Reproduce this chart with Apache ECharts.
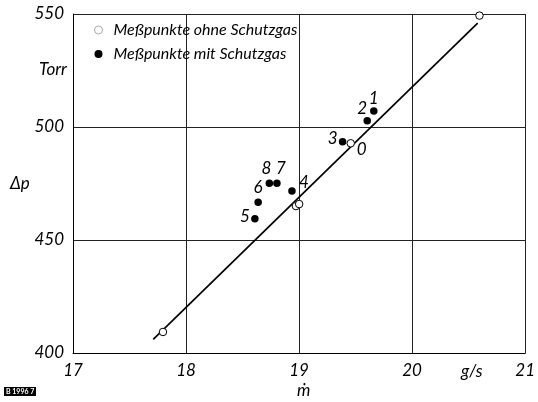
<!DOCTYPE html>
<html><head><meta charset="utf-8">
<script src="https://cdn.jsdelivr.net/npm/echarts@6/dist/echarts.min.js"></script>
<style>html,body{margin:0;padding:0;background:#fff;overflow:hidden}#c{width:538px;height:402px}</style>
</head><body><div id="c"></div>
<script>
// ---- data ----
const xTicks = [17, 18, 19, 20, 21];
const yTicks = [400, 450, 500, 550];
const openX = [17.796, 18.972, 19.001, 19.457, 20.596];
const openY = [409.3, 465.0, 465.9, 492.8, 549.3];
const openLabels = ['', '', '', '0', ''];
const filledX = [19.661, 19.603, 19.385, 18.937, 18.609, 18.638, 18.804, 18.737];
const filledY = [507.1, 502.8, 493.5, 471.7, 459.4, 466.7, 475.1, 475.1];
const filledLabels = ['1', '2', '3', '4', '5', '6', '7', '8'];
const fitX = [17.71, 20.58];
const fitY = [406, 546];
const seriesNames = ['Meßpunkte ohne Schutzgas', 'Meßpunkte mit Schutzgas'];

// ---- layout / style ----
const FONT = "Lato, 'Liberation Sans', sans-serif";
const FS = 17;
const labelOffsets = {
  '0': [11, 6], '1': [0, -12], '2': [-5, -12], '3': [-10, -3], '4': [12, -8],
  '5': [-10, -2], '6': [0, -15], '7': [4, -15], '8': [-3, -15]
};
function pts(xs, ys, labels) {
  return xs.map((x, i) => {
    const lab = labels[i];
    const o = { value: [x, ys[i]] };
    if (lab) {
      o.label = { show: true, formatter: lab, position: 'inside', offset: labelOffsets[lab] || [0, 0] };
    }
    return o;
  });
}
const txt = { fontFamily: FONT, fontStyle: 'italic', fontSize: FS, color: '#000' };
const gfont = "italic " + FS + "px " + FONT;

const chart = echarts.init(document.getElementById('c'), null, { renderer: 'canvas' });
chart.setOption({
  animation: false,
  backgroundColor: '#fff',
  grid: { left: 73, right: 6, top: 14, bottom: 49, containLabel: false },
  legend: {
    orient: 'vertical', left: 89, top: 17,
    itemWidth: 8, itemHeight: 8, itemGap: 8,
    textStyle: Object.assign({}, txt, { fontSize: 16, lineHeight: 16, padding: [0, 0, 0, 6] }),
    data: [
      { name: seriesNames[0], icon: 'circle', itemStyle: { color: '#fff', borderColor: '#aaa', borderWidth: 1 } },
      { name: seriesNames[1], icon: 'circle', itemStyle: { color: '#000' } }
    ]
  },
  xAxis: {
    type: 'value', min: xTicks[0], max: xTicks[xTicks.length - 1], interval: 1,
    axisLine: { show: true, lineStyle: { color: '#000', width: 1 } },
    axisTick: { show: false },
    axisLabel: Object.assign({}, txt, { margin: 9, showMaxLabel: true, showMinLabel: true,
      formatter: v => xTicks.includes(v) ? String(v) : '' }),
    splitLine: { show: true, lineStyle: { color: '#222', width: 1 } }
  },
  yAxis: {
    type: 'value', min: yTicks[0], max: yTicks[yTicks.length - 1], interval: 50,
    axisLine: { show: true, lineStyle: { color: '#000', width: 1 } },
    axisTick: { show: false },
    axisLabel: Object.assign({}, txt, { margin: 9, formatter: v => yTicks.includes(v) ? String(v) : '' }),
    splitLine: { show: true, lineStyle: { color: '#222', width: 1 } }
  },
  series: [
    {
      type: 'line', data: fitX.map((x, i) => [x, fitY[i]]),
      showSymbol: false, symbol: 'none', silent: true,
      lineStyle: { color: '#000', width: 1.7 }, z: 2
    },
    {
      name: seriesNames[0], type: 'scatter', symbol: 'circle', symbolSize: 7.5,
      itemStyle: { color: '#fff', borderColor: '#000', borderWidth: 1, opacity: 1 },
      label: Object.assign({}, txt),
      data: pts(openX, openY, openLabels), z: 3
    },
    {
      name: seriesNames[1], type: 'scatter', symbol: 'circle', symbolSize: 7.5,
      itemStyle: { color: '#000', opacity: 1 },
      label: Object.assign({}, txt),
      data: pts(filledX, filledY, filledLabels), z: 4
    }
  ],
  graphic: [
    { type: 'text', left: 39, top: 61, style: { text: 'Torr', fill: '#000', font: gfont } },
    { type: 'text', left: 10, top: 175, style: { text: 'Δp', fill: '#000', font: gfont } },
    { type: 'text', left: 461, top: 363, style: { text: 'g/s', fill: '#000', font: gfont } },
    { type: 'text', left: 297, top: 382, style: { text: 'ṁ', fill: '#000', font: gfont } },
    { type: 'rect', left: 4, top: 387, shape: { width: 32, height: 9 }, style: { fill: '#000' } },
    { type: 'text', left: 6, top: 388, style: { text: 'B 1996 7', fill: '#fff', font: "bold 7px " + FONT } }
  ]
});
</script></body></html>
